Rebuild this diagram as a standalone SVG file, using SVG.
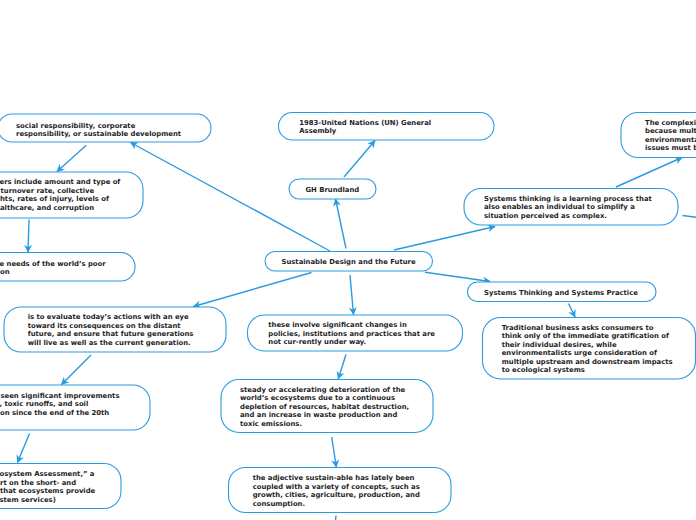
<svg xmlns="http://www.w3.org/2000/svg" width="696" height="520" viewBox="0 0 696 520">
<defs>
<style>
.n rect{fill:#fff;stroke:#2a9be0;stroke-width:1.1}
.n text{font-family:"DejaVu Sans",Verdana,sans-serif;font-weight:bold;font-size:6.85px;fill:#1e1e1e}
.c line{stroke:#2a9be0;stroke-width:1.4;fill:none}
.a{marker-end:url(#ah)}
</style>
<marker id="ah" viewBox="0 0 10 10" refX="9" refY="5" markerWidth="8" markerHeight="8" markerUnits="userSpaceOnUse" orient="auto">
<path d="M0,0 L10,5 L0,10 L3,5 z" fill="#2a9be0"/>
</marker>
</defs>
<rect width="696" height="520" fill="#fff"/>
<g id="connectors" class="c">
<line class="a" x1="330" y1="251" x2="130.5" y2="142.5"/>
<line class="a" x1="86" y1="145.5" x2="57" y2="171.5"/>
<line class="a" x1="29" y1="219.5" x2="28" y2="252"/>
<line class="a" x1="311.5" y1="272.5" x2="193.5" y2="306.5"/>
<line class="a" x1="91" y1="355" x2="61.5" y2="384.5"/>
<line class="a" x1="29.5" y1="433.5" x2="17.5" y2="462.5"/>
<line class="a" x1="346" y1="248.5" x2="335.5" y2="199"/>
<line class="a" x1="344" y1="177" x2="375" y2="140.5"/>
<line class="a" x1="350" y1="275" x2="353.5" y2="314.5"/>
<line class="a" x1="346" y1="354.5" x2="338.3" y2="378.8"/>
<line class="a" x1="331.7" y1="437" x2="336.3" y2="467"/>
<line x1="336" y1="515.5" x2="335.3" y2="522"/>
<line class="a" x1="394" y1="250" x2="495" y2="226.5"/>
<line class="a" x1="616" y1="187" x2="682" y2="157.5"/>
<line x1="682.5" y1="215.5" x2="698" y2="217.5"/>
<line class="a" x1="425" y1="272.3" x2="490" y2="281.5"/>
<line class="a" x1="568.5" y1="303.5" x2="575" y2="317"/>
</g>
<g id="n1" class="n"><rect x="-2" y="114" width="213" height="28" rx="14"/><text x="16" y="127.5">social responsibility, corporate</text><text x="16" y="136">responsibility, or sustainable development</text></g>
<g id="n2" class="n"><rect x="-30" y="172" width="173" height="46" rx="17"/><text x="-0.5" y="184">ers include amount and type of</text><text x="0.5" y="192.5">turnover rate, collective</text><text x="0" y="201">hts, rates of injury, levels of</text><text x="0" y="209.5">althcare, and corruption</text></g>
<g id="n3" class="n"><rect x="-30" y="252.5" width="165" height="28.5" rx="14"/><text x="-0.5" y="265.5">e needs of the world’s poor</text><text x="0" y="274">on</text></g>
<g id="n4" class="n"><rect x="4" y="307" width="222" height="45" rx="17"/><text x="27.7" y="319">is to evaluate today’s actions with an eye</text><text x="27.7" y="327.5">toward its consequences on the distant</text><text x="27.7" y="336">future, and ensure that future generations</text><text x="27.7" y="344.5">will live as well as the current generation.</text></g>
<g id="n5" class="n"><rect x="-30" y="385" width="180" height="45" rx="17"/><text x="0.5" y="397.5">seen significant improvements</text><text x="-0.5" y="406">, toxic runoffs, and soil</text><text x="0" y="414.5">on since the end of the 20th</text></g>
<g id="n6" class="n"><rect x="-30" y="463.5" width="151" height="45" rx="17"/><text x="-0.5" y="476">osystem Assessment,” a</text><text x="0" y="484.5">rt on the short- and</text><text x="0" y="493">that ecosystems provide</text><text x="-0.5" y="501.5">stem services)</text></g>
<g id="n7" class="n"><rect x="278.5" y="112.5" width="215.5" height="27.5" rx="13.75"/><text x="299.3" y="125">1983-United Nations (UN) General</text><text x="299.3" y="133">Assembly</text></g>
<g id="n8" class="n"><rect x="289" y="179" width="87" height="20" rx="10"/><text x="305.5" y="191.5">GH Brundland</text></g>
<g id="n9" class="n"><rect x="265" y="251.5" width="167.5" height="19.5" rx="9.75"/><text x="281.5" y="264">Sustainable Design and the Future</text></g>
<g id="n10" class="n"><rect x="247.5" y="315" width="215" height="36" rx="17"/><text x="268.3" y="326.5">these involve significant changes in</text><text x="268.3" y="335.5">policies, institutions and practices that are</text><text x="268.3" y="344">not cur-rently under way.</text></g>
<g id="n11" class="n"><rect x="221" y="379.5" width="212" height="53" rx="18"/><text x="240" y="391.5">steady or accelerating deterioration of the</text><text x="240" y="400">world’s ecosystems due to a continuous</text><text x="240" y="408.5">depletion of resources, habitat destruction,</text><text x="240" y="417">and an increase in waste production and</text><text x="240" y="425.5">toxic emissions.</text></g>
<g id="n12" class="n"><rect x="228.5" y="467.5" width="222.5" height="45" rx="17"/><text x="252.7" y="480">the adjective sustain-able has lately been</text><text x="252.7" y="488.5">coupled with a variety of concepts, such as</text><text x="252.7" y="497">growth, cities, agriculture, production, and</text><text x="252.7" y="505.5">consumption.</text></g>
<g id="n13" class="n"><rect x="464" y="188.5" width="214" height="36.5" rx="17"/><text x="484" y="200.5">Systems thinking is a learning process that</text><text x="484" y="209">also enables an individual to simplify a</text><text x="484" y="217.5">situation perceived as complex.</text></g>
<g id="n14" class="n"><rect x="621" y="112.5" width="120" height="45" rx="17"/><text x="645" y="124.5">The complexi</text><text x="645" y="133">because mult</text><text x="645" y="141.5">environmenta</text><text x="645" y="150">issues must b</text></g>
<g id="n15" class="n"><rect x="467.5" y="282" width="188.5" height="19.5" rx="9.75"/><text x="484" y="294.5">Systems Thinking and Systems Practice</text></g>
<g id="n16" class="n"><rect x="482.5" y="317.5" width="213" height="61.5" rx="18"/><text x="501.7" y="329.5">Traditional business asks consumers to</text><text x="501.7" y="338">think only of the immediate gratification of</text><text x="501.7" y="346.5">their individual desires, while</text><text x="501.7" y="355">environmentalists urge consideration of</text><text x="501.7" y="363.5">multiple upstream and downstream impacts</text><text x="501.7" y="372">to ecological systems</text></g>
</svg>
